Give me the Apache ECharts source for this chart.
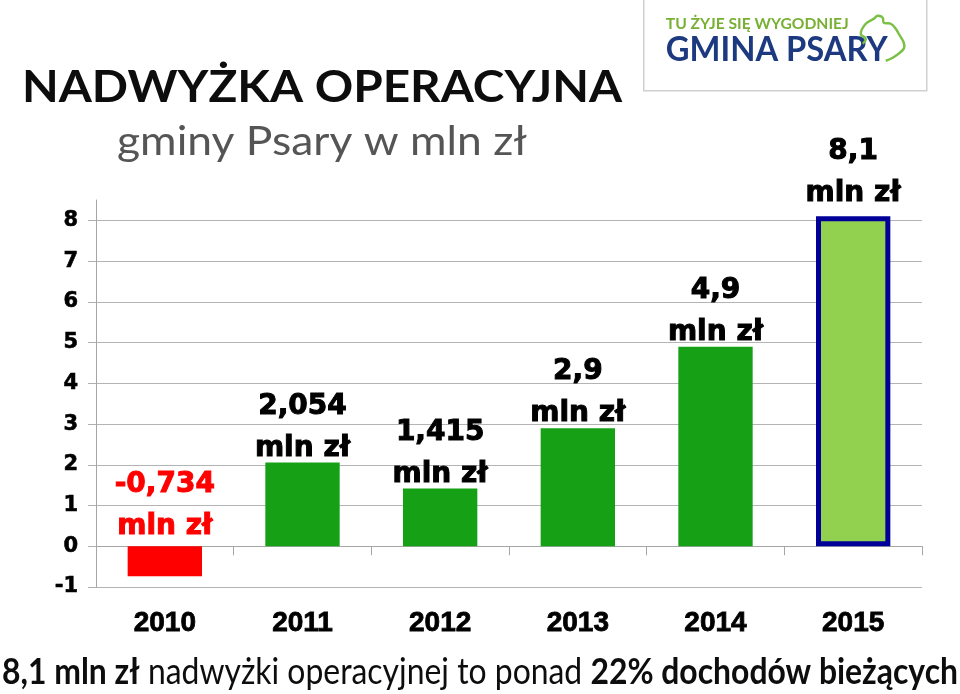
<!DOCTYPE html>
<html><head><meta charset="utf-8">
<script src="https://cdn.jsdelivr.net/npm/echarts@6/dist/echarts.min.js"></script>
<style>html,body{margin:0;padding:0;background:#fff}#c{width:960px;height:694px}</style>
</head><body><div id="c"></div>
<script>
// ---- data ----
const years = ['2010', '2011', '2012', '2013', '2014', '2015'];
const surplus = [-0.734, 2.054, 1.415, 2.9, 4.9, 8.1];
const yTickValues = [-1, 0, 1, 2, 3, 4, 5, 6, 7, 8];
const unitText = 'mln zł';
const titleText = 'NADWYŻKA OPERACYJNA';
const subtitleText = 'gminy Psary w mln zł';
const footBold1 = '8,1 mln zł';
const footMid = ' nadwyżki operacyjnej to ponad ';
const footBold2 = '22% dochodów bieżących';
const logoTop = 'TU ŻYJE SIĘ WYGODNIEJ';
const logoMain = 'GMINA PSARY';

// ---- helpers ----
const mctx = document.createElement('canvas').getContext('2d');
function textWidth(text, font) { mctx.font = font; return mctx.measureText(text).width; }
function fmt(v) { return String(v).replace('.', ','); }

const yMin = yTickValues[0], yTop = yTickValues[yTickValues.length - 1];
const yMaxData = 8.5;
const G = { left: 96, right: 38, top: 200, bottom: 107 };
const gh = 694 - G.top - G.bottom;
const top2 = G.top + (yMaxData - yTop) * gh / (yMaxData - yMin);

const GREEN = '#16a016', RED = '#ff0000', LIGHT = '#92d050', NAVY = '#000099';
const last = surplus.length - 1;

const barData = surplus.map((v, i) => {
  const item = { value: v };
  if (v < 0) {
    item.itemStyle = { color: RED };
    item.label = { color: RED, textBorderColor: RED, distance: -1 };
  } else if (i === last) {
    item.itemStyle = { color: LIGHT, borderColor: NAVY, borderWidth: 5 };
    item.label = { distance: 2 };
  } else {
    item.itemStyle = { color: GREEN };
  }
  return item;
});

// fonts
const titleFont = 'bold 44px Lato';
const subFont = '40px Lato';
const footFontB = 'bold 36px Lato';
const footFontR = '36px Lato';
const titleScale = 600 / textWidth(titleText, titleFont);
const subScale = 410 / textWidth(subtitleText, subFont);
const footW = textWidth(footBold1, footFontB) + textWidth(footMid, footFontR) + textWidth(footBold2, footFontB);
const footScale = 956 / footW;
const logoTopFont = 'bold 15px Lato';
const logoMainFont = 'bold 34px Lato';
const logoTopScale = 183 / textWidth(logoTop, logoTopFont);
const logoMainScale = 222 / textWidth(logoMain, logoMainFont);

const chart = echarts.init(document.getElementById('c'), null, { renderer: 'canvas' });
chart.setOption({
  animation: false,
  backgroundColor: '#ffffff',
  grid: [
    { left: G.left, right: G.right, top: G.top, bottom: G.bottom },
    { left: G.left, right: G.right, top: top2, bottom: G.bottom }
  ],
  xAxis: [
    {
      type: 'category', data: years, gridIndex: 0, position: 'bottom',
      axisLine: { show: false, onZero: false }, axisTick: { show: false },
      axisLabel: { margin: 22, color: '#000', fontFamily: 'Liberation Sans', fontWeight: 'bold', fontSize: 28, textBorderColor: '#000', textBorderWidth: 0.8 }
    },
    {
      type: 'category', data: years, gridIndex: 1,
      axisLine: { show: true, onZero: true, lineStyle: { color: '#a6a6a6', width: 1 } },
      axisTick: { show: true, length: 9, lineStyle: { color: '#a6a6a6' } },
      axisLabel: { show: false }
    }
  ],
  yAxis: [
    {
      type: 'value', gridIndex: 0, min: yMin, max: yMaxData,
      axisLine: { show: true, lineStyle: { color: '#a6a6a6', width: 1 } },
      axisTick: { show: false }, axisLabel: { show: false }, splitLine: { show: false }
    },
    {
      type: 'value', gridIndex: 1, min: yMin, max: yTop, interval: 1,
      axisLine: { show: false },
      axisTick: { show: true, length: 8, lineStyle: { color: '#b0b0b0' } },
      axisLabel: { margin: 18, color: '#000', fontFamily: 'DejaVu Sans', fontWeight: 'bold', fontSize: 21, textBorderColor: '#000', textBorderWidth: 0.6 },
      splitLine: { show: true, lineStyle: { color: '#b4b4b4', width: 1 } }
    }
  ],
  series: [{
    type: 'bar', xAxisIndex: 0, yAxisIndex: 0, data: barData,
    barWidth: '54%', clip: false,
    label: {
      show: true, position: 'top', distance: -7,
      formatter: p => fmt(p.value) + '\n' + unitText,
      fontFamily: 'DejaVu Sans', fontWeight: 'bold', fontSize: 28, lineHeight: 42, color: '#000',
      textBorderColor: '#000', textBorderWidth: 1
    }
  }],
  graphic: [
    {
      type: 'text', left: 22, top: 66, scaleX: titleScale, originX: 0,
      style: { text: titleText, font: titleFont, fill: '#0d0d0d' }
    },
    {
      type: 'text', left: 117, top: 122, scaleX: subScale, originX: 0,
      style: { text: subtitleText, font: subFont, fill: '#555555' }
    },
    {
      type: 'text', left: 2, top: 654, scaleX: footScale, originX: 0,
      style: {
        text: '{b|' + footBold1 + '}{r|' + footMid + '}{b|' + footBold2 + '}',
        rich: {
          b: { font: footFontB, fill: '#0d0d0d' },
          r: { font: footFontR, fill: '#0d0d0d' }
        }
      }
    },
    {
      type: 'group', left: 643, top: -2,
      children: [
        { type: 'rect', shape: { x: 0, y: 0, width: 283, height: 92 }, style: { fill: '#fff', stroke: '#cfcfcf', lineWidth: 1.5 } },
        { type: 'text', x: 22, y: 18, scaleX: logoTopScale, style: { text: logoTop, font: logoTopFont, fill: '#78b034' } },
        { type: 'text', x: 22, y: 34, scaleX: logoMainScale, style: { text: logoMain, font: logoMainFont, fill: '#1d3a80' } },
        {
          type: 'polyline',
          shape: { smooth: 0.4, points: [[219, 45], [222, 40], [217, 35], [222, 25], [230, 20], [234, 17], [239, 19], [240, 24], [247, 25], [252, 30], [255, 35], [260, 44], [260, 50], [252, 57], [247, 60], [242, 62]] },
          style: { stroke: '#79c043', lineWidth: 2.4, fill: null }
        }
      ]
    }
  ]
});
</script>
</body></html>
